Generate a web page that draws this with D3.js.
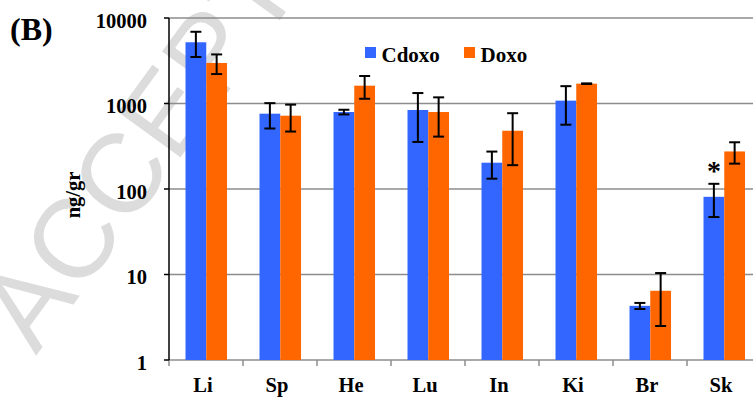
<!DOCTYPE html>
<html><head><meta charset="utf-8">
<script src="https://cdn.jsdelivr.net/npm/d3@7"></script>
<style>html,body{margin:0;padding:0;background:#fff;}svg{display:block;}
.serif{font-family:"Liberation Serif","Times New Roman",Times,serif;font-weight:bold;}
</style>
</head><body>
<script>
const categories = ["Li","Sp","He","Lu","In","Ki","Br","Sk"];
const seriesNames = ["Cdoxo","Doxo"];
const cdoxoMean = [5200, 760, 795, 840, 203, 1080, 4.3, 81];
const cdoxoSD   = [1700, 250, 50, 485, 71, 515, 0.35, 34];
const doxoMean  = [2980, 720, 1616, 795, 480, 1706, 6.45, 275];
const doxoSD    = [770, 250, 480, 385, 290, 12, 3.95, 77];
const yTicks = [1, 10, 100, 1000, 10000];
const colors = ["#3366FF", "#FF6600"];
const significant = ["Sk"];

const W = 753, H = 400;
const svg = d3.select("body").append("svg").attr("width", W).attr("height", H);

// watermark
svg.append("text")
  .attr("transform", "translate(36,356) rotate(-54)")
  .style("font-family", "'Liberation Sans', Arial, sans-serif")
  .attr("font-size", 112)
  .attr("fill", "#dcdcdc")
  .text("ACCEPTED MANUSCRIPT");

const x0 = d3.scaleBand().domain(categories).range([169, 761]).padding(0);
const bw = x0.bandwidth();
const x1 = d3.scaleBand().domain(seriesNames).range([bw * 0.223, bw * 0.784]).padding(0);
const y = d3.scaleLog().domain([1, 10000]).range([360, 18]);

// gridlines
svg.append("g").selectAll("line").data(yTicks.slice(1)).join("line")
  .attr("x1", 169).attr("x2", W).attr("y1", d => y(d)).attr("y2", d => y(d))
  .attr("stroke", "#8c8c8c").attr("stroke-width", 1.5);

// x axis
const xAxis = svg.append("g").attr("transform", "translate(0,360)");
xAxis.append("line").attr("x1", 169).attr("x2", W).attr("stroke", "#8c8c8c").attr("stroke-width", 1.5);
xAxis.selectAll("line.tk").data(d3.range(categories.length + 1)).join("line").attr("class","tk")
  .attr("x1", i => 169 + i * bw).attr("x2", i => 169 + i * bw).attr("y1", 0).attr("y2", 6)
  .attr("stroke", "#8c8c8c").attr("stroke-width", 1.5);
svg.append("g").selectAll("text").data(categories).join("text")
  .attr("class", "serif")
  .attr("x", d => x0(d) + bw / 2 - 3).attr("y", 392)
  .attr("text-anchor", "middle")
  .attr("font-size", 20.5)
  .text(d => d);

// bars
const data = [cdoxoMean, doxoMean];
const sds = [cdoxoSD, doxoSD];
seriesNames.forEach((s, si) => {
  const g = svg.append("g");
  g.selectAll("rect").data(categories).join("rect")
    .attr("x", d => x0(d) + x1(s)).attr("width", x1.bandwidth())
    .attr("y", (d, i) => y(data[si][i])).attr("height", (d, i) => 360 - y(data[si][i]))
    .attr("fill", colors[si]);
});
seriesNames.forEach((s, si) => {
  const g = svg.append("g").attr("stroke", "#000").attr("stroke-width", 2);
  categories.forEach((c, i) => {
    const cx = x0(c) + x1(s) + x1.bandwidth() / 2;
    const m = data[si][i], sd = sds[si][i];
    const yt = y(m + sd), yb = y(Math.max(m - sd, 1));
    g.append("line").attr("x1", cx).attr("x2", cx).attr("y1", yt).attr("y2", yb);
    g.append("line").attr("x1", cx - 5.5).attr("x2", cx + 5.5).attr("y1", yt).attr("y2", yt);
    g.append("line").attr("x1", cx - 5.5).attr("x2", cx + 5.5).attr("y1", yb).attr("y2", yb);
  });
});
// significance asterisk
significant.forEach(c => {
  const i = categories.indexOf(c);
  svg.append("text").attr("class", "serif")
    .attr("x", x0(c) + x1("Cdoxo") + x1.bandwidth() / 2).attr("y", y(cdoxoMean[i] + cdoxoSD[i]) - 4)
    .attr("text-anchor", "middle")
    .attr("font-size", 28)
    .text("*");
});

// y axis
const yAxis = svg.append("g");
yAxis.append("line").attr("x1", 169).attr("x2", 169).attr("y1", 18).attr("y2", 360).attr("stroke", "#000").attr("stroke-width", 1.5);
yAxis.selectAll("line.tk").data(yTicks).join("line").attr("class","tk")
  .attr("x1", 164).attr("x2", 169).attr("y1", d => y(d)).attr("y2", d => y(d))
  .attr("stroke", "#000").attr("stroke-width", 1.5);
yAxis.selectAll("text").data(yTicks).join("text").attr("class", "serif")
  .attr("x", 147).attr("y", d => y(d) + 9.5).attr("text-anchor", "end")
  .attr("font-size", 20.5)
  .text(d => d3.format("d")(d));

svg.append("text").attr("class", "serif")
  .attr("transform", "translate(80,195) rotate(-90)")
  .attr("text-anchor", "middle")
  .attr("font-size", 20.5)
  .text("ng/gr");

svg.append("text").attr("class", "serif").attr("x", 10).attr("y", 40)
  .attr("font-size", 32)
  .text("(B)");

// legend
const legX = [365, 464];
seriesNames.forEach((s, si) => {
  svg.append("rect").attr("x", legX[si]).attr("y", 47).attr("width", 11).attr("height", 11).attr("fill", colors[si]);
  svg.append("text").attr("class", "serif").attr("x", legX[si] + 16.5).attr("y", 62)
    .attr("font-size", 21)
    .text(s);
});
</script>
</body></html>
